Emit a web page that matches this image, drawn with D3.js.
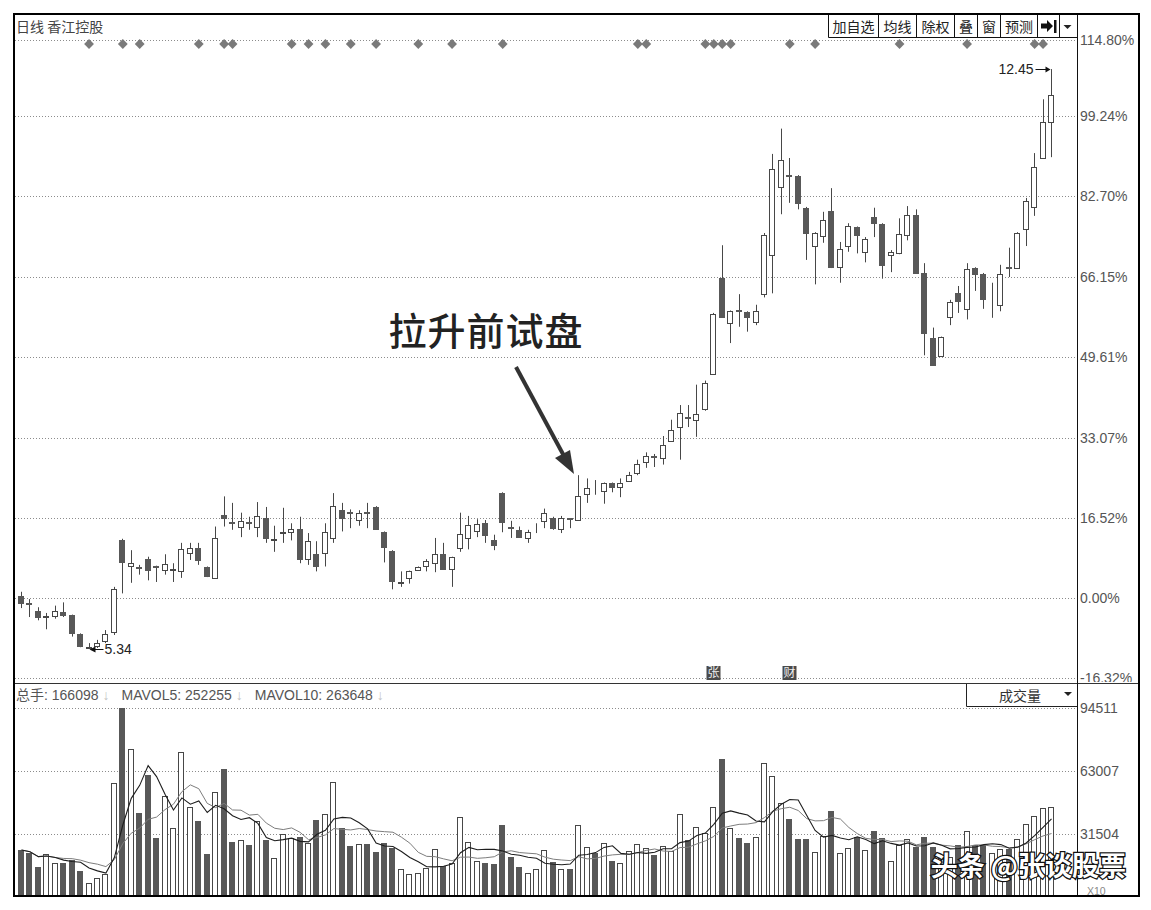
<!DOCTYPE html>
<html><head><meta charset="utf-8">
<script src="https://cdn.jsdelivr.net/npm/d3@7"></script>
<style>
body{margin:0;background:#fff;}
svg{display:block;}
text{font-family:"Liberation Sans",Arial,"Noto Sans CJK SC",sans-serif;}
.cjk{font-family:"Noto Sans CJK SC",sans-serif;}
</style></head><body>
<svg id="c" width="1151" height="910"></svg>
<script>
// ---------------- data ----------------
const stockName = "香江控股";
const periodName = "日线";
const basePrice = 5.96; // price at 0.00%
const opens  = [5.99,5.90,5.80,5.73,5.74,5.79,5.75,5.52,5.35,5.38,5.44,5.55,6.68,6.35,6.34,6.44,6.35,6.31,6.31,6.29,6.51,6.58,6.34,6.21,6.98,6.89,6.84,6.89,6.84,6.94,6.68,6.76,6.77,6.81,6.44,6.50,6.51,6.70,7.04,7.02,6.92,7.02,7.08,6.77,6.54,6.15,6.21,6.31,6.35,6.39,6.50,6.32,6.58,6.70,6.79,6.88,6.67,7.25,6.83,6.80,6.70,6.78,6.91,6.94,6.81,6.94,6.92,7.24,7.28,7.27,7.37,7.32,7.40,7.50,7.63,7.70,7.68,7.89,8.06,8.18,8.15,8.28,8.71,9.89,9.34,9.49,9.47,9.35,9.69,10.17,11.00,11.15,11.14,10.75,10.28,10.40,10.71,10.02,10.28,10.51,10.21,10.64,10.55,10.17,10.19,10.42,10.66,9.95,9.15,8.93,9.41,9.70,9.51,10.01,9.94,9.57,9.56,10.02,10.01,10.49,10.76,11.36,11.80];
const highs  = [6.04,5.95,5.85,5.78,5.87,5.91,5.76,5.53,5.41,5.45,5.57,6.10,6.69,6.55,6.37,6.47,6.36,6.50,6.39,6.64,6.64,6.64,6.35,6.84,7.21,7.13,7.01,6.96,7.14,7.08,6.85,7.07,6.88,6.96,6.76,6.66,6.88,7.25,7.13,7.05,7.04,7.13,7.09,6.78,6.55,6.29,6.30,6.35,6.44,6.70,6.64,6.47,7.01,6.97,6.93,6.92,6.74,7.26,6.91,6.84,6.80,6.88,7.06,6.96,6.97,6.94,7.47,7.43,7.41,7.38,7.38,7.43,7.51,7.66,7.75,7.73,7.95,8.15,8.33,8.33,8.58,8.63,9.46,10.29,9.49,9.69,9.48,9.56,10.44,11.41,11.72,11.36,11.15,10.76,10.45,10.70,10.99,10.33,10.56,10.52,10.39,10.75,10.56,10.23,10.62,10.77,10.73,10.07,9.28,9.17,9.62,9.79,10.07,10.02,9.95,9.83,10.05,10.26,10.45,10.87,11.42,12.08,12.45];
const lows   = [5.84,5.73,5.69,5.58,5.71,5.73,5.49,5.36,5.34,5.35,5.41,5.51,6.02,6.15,6.25,6.18,6.16,6.25,6.16,6.21,6.43,6.37,6.22,6.20,6.84,6.80,6.71,6.80,6.71,6.64,6.53,6.64,6.67,6.39,6.37,6.29,6.35,6.64,6.78,6.82,6.85,6.82,6.80,6.40,6.07,6.10,6.14,6.30,6.29,6.28,6.31,6.10,6.53,6.56,6.71,6.64,6.55,6.77,6.70,6.70,6.64,6.76,6.82,6.80,6.76,6.82,6.91,7.13,7.23,7.12,7.26,7.20,7.39,7.47,7.56,7.57,7.60,7.88,7.66,8.06,7.94,8.26,8.70,9.40,9.09,9.29,9.23,9.31,9.65,9.70,10.67,10.81,10.73,10.11,9.81,10.32,10.01,9.83,10.21,10.19,10.08,10.39,9.88,9.96,10.18,10.35,9.94,8.94,8.81,8.92,9.31,9.46,9.38,9.73,9.51,9.40,9.48,9.90,10.00,10.28,10.65,11.35,11.37];
const closes = [5.90,5.89,5.73,5.74,5.80,5.75,5.53,5.38,5.36,5.41,5.52,6.07,6.40,6.39,6.33,6.31,6.34,6.38,6.32,6.56,6.58,6.43,6.23,6.70,6.94,6.88,6.91,6.88,6.97,6.70,6.69,6.77,6.81,6.44,6.66,6.35,6.77,7.09,6.94,7.01,7.01,7.01,6.81,6.59,6.17,6.16,6.29,6.34,6.42,6.50,6.32,6.47,6.75,6.86,6.87,6.74,6.61,6.90,6.82,6.71,6.77,6.79,7.01,6.82,6.94,6.93,7.21,7.31,7.27,7.37,7.32,7.37,7.47,7.61,7.71,7.69,7.84,8.02,8.23,8.17,8.22,8.60,9.45,9.41,9.48,9.48,9.41,9.48,10.42,11.22,11.33,11.14,10.81,10.44,10.44,10.60,10.02,10.24,10.53,10.42,10.37,10.56,10.05,10.21,10.43,10.66,9.95,9.21,8.82,9.16,9.59,9.61,10.00,9.94,9.63,9.57,9.94,10.01,10.44,10.83,11.25,11.80,12.13];
const volumes = [23350,21700,15000,21350,16700,16700,18350,13000,7000,9500,11200,57000,94511,73700,42000,60700,29500,50350,34200,72200,45000,37850,21200,52200,63700,27500,28350,25850,38000,28350,19200,31350,29500,30000,27000,38350,41350,57500,34200,25350,26350,26200,22200,26700,24200,13700,11200,11700,14200,23700,15350,16700,40000,27500,17850,16700,16200,35850,19700,15000,12000,13700,23350,17200,13700,13700,35850,25000,22000,26700,17850,16700,23000,26200,24500,20850,25500,23000,41350,28350,34700,31700,45000,68850,34200,29200,27000,30000,66700,60500,47000,38850,28700,28700,22500,30350,43000,22000,24500,30000,23350,32850,29200,17850,25850,28700,25000,30000,25000,20000,19700,25850,32850,25850,25850,22000,23700,23700,28700,36200,40350,44500,45000];
const pctTicks = [114.80, 99.24, 82.70, 66.15, 49.61, 33.07, 16.52, 0.00, -16.32];
const volTicks = [94511, 63007, 31504];
const signalIdx = [8,12,14,21,24,25,32,34,36,39,42,47,51,57,73,74,81,82,83,84,91,94,104,112,120,121];
const noteIdx = [82, 91];
const noteText = ["张", "财"];
const toolButtons = ["加自选","均线","除权","叠","窗","预测"];
const volHeader = [["总手", "166098"], ["MAVOL5", "252255"], ["MAVOL10", "263648"]];
const volIndicatorName = "成交量";
const volUnit = "X10";
const annotation = "拉升前试盘";
const watermark = "头条 @张谈股票";

// ---------------- layout ----------------
const svg = d3.select("#c");
const L = 14, T = 14, R = 1077, OR = 1139, B = 896, SEP = 683;
const dark = "#585858", edge = "#474747", gridC = "#8c8c8c", axisTxt = "#555";
const n = opens.length;

const xs = d3.scalePoint().domain(d3.range(n)).range([21, 1051]);
const px = i => Math.round(xs(i));
const pctToPrice = p => basePrice * (1 + p / 100);
const yP = d3.scaleLinear()
  .domain([pctToPrice(pctTicks[pctTicks.length - 1]), pctToPrice(pctTicks[0])])
  .range([677.6, 40.4]);
const yV = d3.scaleLinear().domain([0, volTicks[0]]).range([896.7, 707.7]);

svg.append("rect").attr("width", 1151).attr("height", 910).attr("fill", "#fff");

const defs = svg.append("defs");
defs.append("clipPath").attr("id", "priceClip").append("rect")
  .attr("x", 0).attr("y", T).attr("width", 1151).attr("height", SEP - T - 1);
defs.append("clipPath").attr("id", "plotClip").append("rect")
  .attr("x", L).attr("y", T).attr("width", R - L).attr("height", B - T);

// grid lines (price)
const gPrice = svg.append("g").attr("clip-path", "url(#priceClip)");
gPrice.append("g").selectAll("line").data(pctTicks).join("line")
  .attr("x1", L + 1).attr("x2", R)
  .attr("y1", d => Math.round(yP(pctToPrice(d))) + 0.5)
  .attr("y2", d => Math.round(yP(pctToPrice(d))) + 0.5)
  .attr("stroke", gridC).attr("stroke-dasharray", "1,2");

// price axis labels
const axP = gPrice.append("g").attr("transform", `translate(${R},0)`)
  .call(d3.axisRight(yP).tickValues(pctTicks.map(pctToPrice)).tickSize(0).tickPadding(3)
    .tickFormat((d, i) => pctTicks[i].toFixed(2) + "%"));
axP.select(".domain").remove();
axP.selectAll("text").attr("font-size", 14).attr("fill", axisTxt)
  .attr("font-family", "Liberation Sans, Arial, sans-serif");

// volume grid
const gVol = svg.append("g");
gVol.append("g").selectAll("line").data(volTicks).join("line")
  .attr("x1", L + 1).attr("x2", R)
  .attr("y1", d => Math.round(yV(d)) + 0.5).attr("y2", d => Math.round(yV(d)) + 0.5)
  .attr("stroke", gridC).attr("stroke-dasharray", "1,2");
const axV = gVol.append("g").attr("transform", `translate(${R},0)`)
  .call(d3.axisRight(yV).tickValues(volTicks).tickSize(0).tickPadding(3).tickFormat(d3.format("d")));
axV.select(".domain").remove();
axV.selectAll("text").attr("font-size", 14).attr("fill", axisTxt)
  .attr("font-family", "Liberation Sans, Arial, sans-serif");
gVol.append("text").attr("x", 1087).attr("y", 895).attr("font-size", 10.5)
  .attr("fill", "#888").text(volUnit);

// candles
const gC = svg.append("g").attr("clip-path", "url(#plotClip)");
const idx = d3.range(n);
gC.selectAll("line.wick").data(idx).join("line").attr("class", "wick")
  .attr("x1", i => px(i) + 0.5).attr("x2", i => px(i) + 0.5)
  .attr("y1", i => yP(highs[i])).attr("y2", i => yP(lows[i]))
  .attr("stroke", edge).attr("stroke-width", 1);
gC.selectAll("rect.body").data(idx).join("rect").attr("class", "body")
  .attr("x", i => px(i) - 2.5).attr("width", 5)
  .attr("y", i => Math.round(yP(Math.max(opens[i], closes[i]))) + 0.5)
  .attr("height", i => Math.max(0, Math.round(yP(Math.min(opens[i], closes[i]))) - Math.round(yP(Math.max(opens[i], closes[i])))))
  .attr("fill", i => closes[i] >= opens[i] ? "#fff" : dark)
  .attr("stroke", i => closes[i] >= opens[i] ? edge : dark);

// signal diamonds
svg.append("g").selectAll("path").data(signalIdx).join("path")
  .attr("d", d3.symbol(d3.symbolSquare, 48))
  .attr("transform", i => `translate(${xs(i) + 0.5},44) rotate(45)`)
  .attr("fill", "#7a7a7a");

// notes (张 / 财)
const gN = svg.append("g").selectAll("g").data(noteIdx).join("g")
  .attr("transform", i => `translate(${px(i) + 0.5},673)`);
gN.append("rect").attr("x", -7).attr("y", -7).attr("width", 14).attr("height", 14).attr("fill", "#4a4a4a");
gN.append("text").attr("class", "cjk").attr("text-anchor", "middle").attr("dy", "0.36em")
  .attr("font-size", 12).attr("fill", "#eee").text((d, k) => noteText[k]);

// high / low labels
const hi = d3.maxIndex(highs), lo = d3.minIndex(lows);
const hx = px(hi) + 0.5, hy = Math.round(yP(highs[hi])) + 0.5;
svg.append("line").attr("x1", hx - 16).attr("x2", hx - 4).attr("y1", hy).attr("y2", hy).attr("stroke", "#111");
svg.append("path").attr("d", `M${hx - 1},${hy} L${hx - 6},${hy - 3} L${hx - 6},${hy + 3} Z`).attr("fill", "#111");
svg.append("text").attr("x", hx - 18).attr("y", hy).attr("dy", "0.35em").attr("text-anchor", "end")
  .attr("font-size", 14).attr("fill", "#222").text(highs[hi].toFixed(2));
const lx = px(lo) + 0.5, ly = Math.round(yP(lows[lo])) + 0.5;
svg.append("line").attr("x1", lx + 3).attr("x2", lx + 14).attr("y1", ly).attr("y2", ly).attr("stroke", "#111");
svg.append("path").attr("d", `M${lx},${ly} L${lx + 6},${ly - 3} L${lx + 6},${ly + 3} Z`).attr("fill", "#111");
svg.append("text").attr("x", lx + 15).attr("y", ly).attr("dy", "0.35em")
  .attr("font-size", 14).attr("fill", "#222").text(lows[lo].toFixed(2));

// volume bars
const gVB = svg.append("g");
gVB.selectAll("rect").data(idx).join("rect")
  .attr("x", i => px(i) - 2.5).attr("width", 5)
  .attr("y", i => Math.round(yV(volumes[i])) + 0.5)
  .attr("height", i => B - Math.round(yV(volumes[i])))
  .attr("fill", i => closes[i] >= opens[i] ? "#fff" : dark)
  .attr("stroke", i => closes[i] >= opens[i] ? edge : dark);

// MA lines
const ma = k => volumes.map((_, i) => d3.mean(volumes.slice(Math.max(0, i - k + 1), i + 1)));
const ma5 = ma(5), ma10 = ma(10);
const line = d3.line().x((d, i) => xs(i) + 0.5).y(d => yV(d));
svg.append("path").attr("d", line(ma10)).attr("fill", "none").attr("stroke", "#7d7d7d").attr("stroke-width", 1);
svg.append("path").attr("d", line(ma5)).attr("fill", "none").attr("stroke", "#1e1e1e").attr("stroke-width", 1.1);

// volume header
const vh = svg.append("text").attr("x", L + 2).attr("y", 700).attr("font-size", 14).attr("fill", axisTxt);
volHeader.forEach((h, k) => {
  vh.append("tspan").attr("dx", k === 0 ? 0 : 12)
    .attr("font-family", k === 0 ? "Noto Sans CJK SC, sans-serif" : null).text(h[0]);
  vh.append("tspan").text(": " + h[1]);
  vh.append("tspan").attr("fill", "#c4c4c4").attr("dx", 4).text("↓");
});

// 成交量 dropdown
svg.append("path").attr("d", `M966.5,${SEP} V706.5 H${R}`).attr("fill", "none").attr("stroke", "#222");
svg.append("text").attr("class", "cjk").attr("x", 1020).attr("y", 696).attr("dy", "0.36em")
  .attr("text-anchor", "middle").attr("font-size", 14).attr("fill", "#333").text(volIndicatorName);
svg.append("path").attr("d", "M1064,692 h8 l-4,4 z").attr("fill", "#222");

// header
svg.append("text").attr("class", "cjk").attr("x", L + 2).attr("y", 27).attr("dy", "0.36em")
  .attr("font-size", 14).attr("fill", "#444").text(periodName + "  " + stockName);

// tool buttons
const btnEdges = [828, 878, 916, 954, 977, 1000, 1037, 1059, 1076];
const gB = svg.append("g");
gB.append("path").attr("d", `M828.5,${T} V37.5 H${R}`).attr("fill", "none").attr("stroke", "#111");
btnEdges.slice(1, -1).forEach(e => gB.append("line").attr("x1", e + 0.5).attr("x2", e + 0.5)
  .attr("y1", T).attr("y2", 37.5).attr("stroke", "#111"));
toolButtons.forEach((t, k) => gB.append("text").attr("class", "cjk")
  .attr("x", (btnEdges[k] + btnEdges[k + 1]) / 2 + 0.5).attr("y", 26.5).attr("dy", "0.36em")
  .attr("text-anchor", "middle").attr("font-size", 14).attr("fill", "#222").text(t));
gB.append("path").attr("d", "M1041,23.5 h6 v-3.5 l6,6 l-6,6 v-3.5 h-6 z").attr("fill", "#111");
gB.append("rect").attr("x", 1054).attr("y", 20).attr("width", 2.5).attr("height", 13).attr("fill", "#111");
gB.append("path").attr("d", "M1063.5,25 h8 l-4,4 z").attr("fill", "#222");

// annotation
svg.append("text").attr("class", "cjk").attr("x", 486).attr("y", 345).attr("text-anchor", "middle")
  .attr("font-size", 38).attr("font-weight", 500).attr("fill", "#222").attr("letter-spacing", 1)
  .text(annotation);
svg.append("line").attr("x1", 516).attr("y1", 367).attr("x2", 564).attr("y2", 456)
  .attr("stroke", "#333").attr("stroke-width", 4);
svg.append("path").attr("d", "M574,474 L555,458 L570,450 Z").attr("fill", "#333");

// frame
svg.append("line").attr("x1", L).attr("x2", OR).attr("y1", SEP + 0.5).attr("y2", SEP + 0.5).attr("stroke", "#333");
svg.append("line").attr("x1", R + 0.5).attr("x2", R + 0.5).attr("y1", T).attr("y2", B).attr("stroke", "#111");
svg.append("rect").attr("x", L).attr("y", T).attr("width", OR - L).attr("height", B - T)
  .attr("fill", "none").attr("stroke", "#000").attr("stroke-width", 2);

// watermark
svg.append("text").attr("class", "cjk").attr("x", 1126).attr("y", 876).attr("text-anchor", "end")
  .attr("font-size", 27).attr("font-weight", 700).attr("fill", "#fff")
  .attr("stroke", "#111").attr("stroke-width", 2.5).attr("paint-order", "stroke")
  .text(watermark);
</script>
</body></html>
